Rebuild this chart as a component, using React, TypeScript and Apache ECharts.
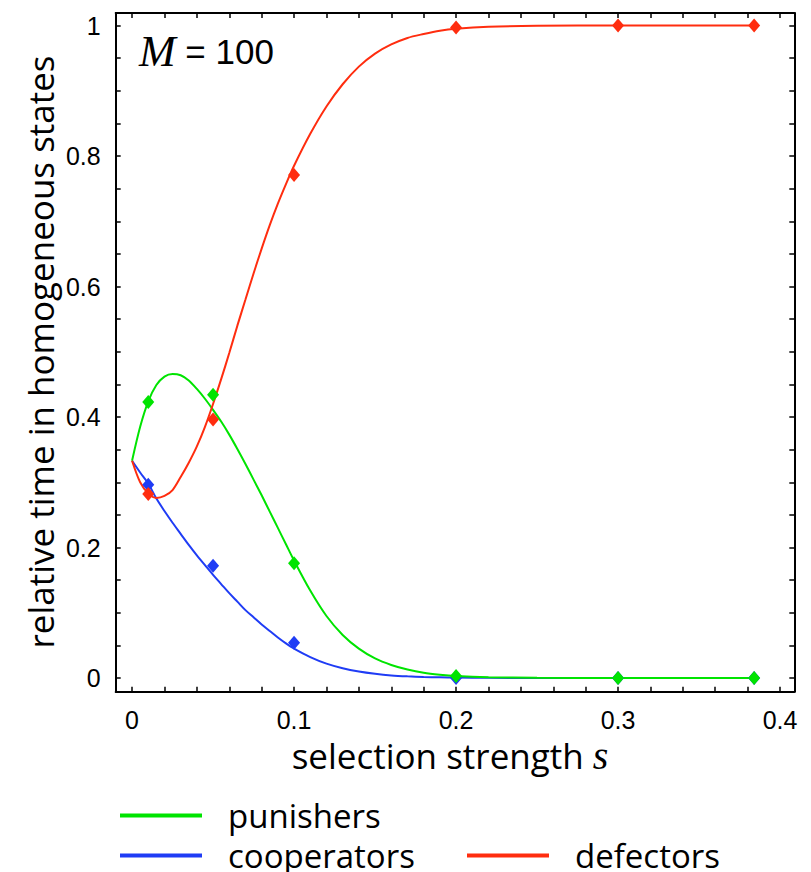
import React, { useEffect, useRef } from "react";
import * as echarts from "echarts";

// selection strength grid for the analytic curves
const sGrid = [0, 0.005, 0.01, 0.015, 0.02, 0.025, 0.03, 0.035, 0.04, 0.045, 0.05, 0.055, 0.06, 0.065, 0.07, 0.075, 0.08, 0.085, 0.09, 0.095, 0.1, 0.11, 0.12, 0.13, 0.14, 0.15, 0.16, 0.17, 0.18, 0.19, 0.2, 0.22, 0.25, 0.3, 0.35, 0.384];
const punishersCurve = [0.333, 0.385, 0.424, 0.449, 0.462, 0.466, 0.464, 0.456, 0.443, 0.428, 0.411, 0.393, 0.373, 0.351, 0.328, 0.304, 0.28, 0.255, 0.23, 0.205, 0.18, 0.134, 0.095, 0.066, 0.045, 0.03, 0.02, 0.013, 0.008, 0.005, 0.003, 0.0012, 0.0003, 0, 0, 0];
const cooperatorsCurve = [0.333, 0.315, 0.298, 0.275, 0.256, 0.238, 0.221, 0.204, 0.188, 0.173, 0.158, 0.144, 0.13, 0.117, 0.104, 0.093, 0.082, 0.072, 0.062, 0.053, 0.045, 0.032, 0.022, 0.015, 0.01, 0.0065, 0.004, 0.0025, 0.0015, 0.001, 0.0006, 0.0002, 0, 0, 0, 0];
const defectorsCurve = [0.333, 0.3, 0.283, 0.276, 0.279, 0.288, 0.308, 0.33, 0.355, 0.385, 0.42, 0.458, 0.498, 0.54, 0.58, 0.62, 0.658, 0.694, 0.727, 0.757, 0.785, 0.834, 0.876, 0.91, 0.937, 0.957, 0.971, 0.981, 0.987, 0.992, 0.995, 0.998, 0.9995, 1, 1, 1];

// simulation points (diamonds)
const simS = [0.01, 0.05, 0.1, 0.2, 0.3, 0.384];
const punishersSim = [0.423, 0.434, 0.176, 0.003, 0, 0];
const cooperatorsSim = [0.296, 0.172, 0.054, 0.0, 0, 0];
const defectorsSim = [0.282, 0.396, 0.771, 0.997, 1.0, 1.0];

// ticks
const xLabelTicks = [0, 0.1, 0.2, 0.3, 0.4];
const xMinorTicks = [0, 0.02, 0.04, 0.06, 0.08, 0.1, 0.12, 0.14, 0.16, 0.18, 0.2, 0.22, 0.24, 0.26, 0.28, 0.3, 0.32, 0.34, 0.36, 0.38, 0.4];
const yLabelTicks = [0, 0.2, 0.4, 0.6, 0.8, 1];
const yMinorTicks = [0, 0.05, 0.1, 0.15, 0.2, 0.25, 0.3, 0.35, 0.4, 0.45, 0.5, 0.55, 0.6, 0.65, 0.7, 0.75, 0.8, 0.85, 0.9, 0.95, 1];

const GREEN = "#00e400";
const BLUE = "#1f3cf5";
const RED = "#ff2d0f";
const SANS = "Liberation Sans";
const TITLE_FONT = "Open Sans";

export default function App() {
  const ref = useRef<HTMLDivElement>(null);
  useEffect(() => {
    if (!ref.current) return;
    const chart = echarts.init(ref.current, null, { renderer: "svg" });
    const pair = (xs: number[], ys: number[]) => xs.map((x, i) => [x, ys[i]]);
    const axisLine = { show: true, onZero: false, lineStyle: { color: "#000", width: 2 } };
    const fmt = (v: number) => (v === 0 ? "0" : v === 1 ? "1" : String(Math.round(v * 10) / 10));
    const lineSeries = (name: string, color: string, ys: number[]) => ({
      name,
      type: "line",
      data: pair(sGrid, ys),
      showSymbol: false,
      symbol: "none",
      lineStyle: { color, width: 2 },
      itemStyle: { color },
      smooth: 0.3,
      z: 3,
    });
    const simSeries = (name: string, color: string, ys: number[], z: number) => ({
      name,
      type: "scatter",
      data: pair(simS, ys),
      symbol: "diamond",
      symbolSize: [12, 14],
      itemStyle: { color, opacity: 1 },
      z,
    });
    const legend = (name: string, left: number, top: number) => ({
      data: [name],
      left,
      top,
      icon: "rect",
      itemWidth: 82,
      itemHeight: 4,
      padding: 0,
      textStyle: { fontFamily: TITLE_FONT, fontSize: 33, color: "#000", padding: [0, 0, 0, 21], lineHeight: 30 },
    });
    chart.setOption({
      animation: false,
      backgroundColor: "#fff",
      grid: { left: 115.7, right: 16.7, top: 13, bottom: 180.3, containLabel: false },
      legend: [legend("punishers", 120, 799), legend("cooperators", 120, 839), legend("defectors", 467, 839)],
      xAxis: [
        {
          type: "value",
          min: -0.0101,
          max: 0.4088,
          position: "bottom",
          axisLine,
          splitLine: { show: false },
          axisTick: { show: true, inside: true, length: 5, customValues: xMinorTicks, lineStyle: { color: "#000", width: 1.5 } },
          axisLabel: { show: true, customValues: xLabelTicks, formatter: fmt, fontFamily: SANS, fontSize: 25, color: "#000", margin: 16 },
        },
        {
          type: "value",
          min: -0.0101,
          max: 0.4088,
          position: "top",
          axisLine,
          splitLine: { show: false },
          axisTick: { show: true, inside: true, length: 5, customValues: xMinorTicks, lineStyle: { color: "#000", width: 1.5 } },
          axisLabel: { show: false },
        },
      ],
      yAxis: [
        {
          type: "value",
          min: -0.021,
          max: 1.0192,
          position: "left",
          axisLine,
          splitLine: { show: false },
          axisTick: { show: true, inside: true, length: 5, customValues: yMinorTicks, lineStyle: { color: "#000", width: 1.5 } },
          axisLabel: { show: true, customValues: yLabelTicks, formatter: fmt, fontFamily: SANS, fontSize: 25, color: "#000", margin: 15 },
        },
        {
          type: "value",
          min: -0.021,
          max: 1.0192,
          position: "right",
          axisLine,
          splitLine: { show: false },
          axisTick: { show: true, inside: true, length: 5, customValues: yMinorTicks, lineStyle: { color: "#000", width: 1.5 } },
          axisLabel: { show: false },
        },
      ],
      graphic: [
        {
          type: "text",
          x: 450,
          y: 755,
          style: {
            text: "{a|selection strength }{b|s}",
            textAlign: "center",
            textVerticalAlign: "middle",
            rich: {
              a: { fontFamily: TITLE_FONT, fontSize: 35, fill: "#000" },
              b: { fontFamily: "Liberation Serif", fontStyle: "italic", fontSize: 40, fill: "#000" },
            },
          },
        },
        {
          type: "text",
          x: 40,
          y: 352,
          rotation: Math.PI / 2,
          style: {
            text: "relative time in homogeneous states",
            textAlign: "center",
            textVerticalAlign: "middle",
            fontFamily: TITLE_FONT,
            fontSize: 35,
            fill: "#000",
          },
        },
        {
          type: "text",
          x: 139,
          y: 51,
          style: {
            text: "{m|M}{t| = 100}",
            textAlign: "left",
            textVerticalAlign: "middle",
            rich: {
              m: { fontFamily: "Liberation Serif", fontStyle: "italic", fontSize: 44, fill: "#000" },
              t: { fontFamily: SANS, fontSize: 35, fill: "#000" },
            },
          },
        },
      ],
      series: [
        lineSeries("cooperators", BLUE, cooperatorsCurve),
        lineSeries("punishers", GREEN, punishersCurve),
        lineSeries("defectors", RED, defectorsCurve),
        simSeries("cooperators (simulation)", BLUE, cooperatorsSim, 4),
        simSeries("defectors (simulation)", RED, defectorsSim, 5),
        simSeries("punishers (simulation)", GREEN, punishersSim, 6),
      ],
    });
    return () => chart.dispose();
  }, []);
  return <div ref={ref} style={{ width: 811, height: 872, position: "absolute", left: 0, top: 0 }} />;
}
